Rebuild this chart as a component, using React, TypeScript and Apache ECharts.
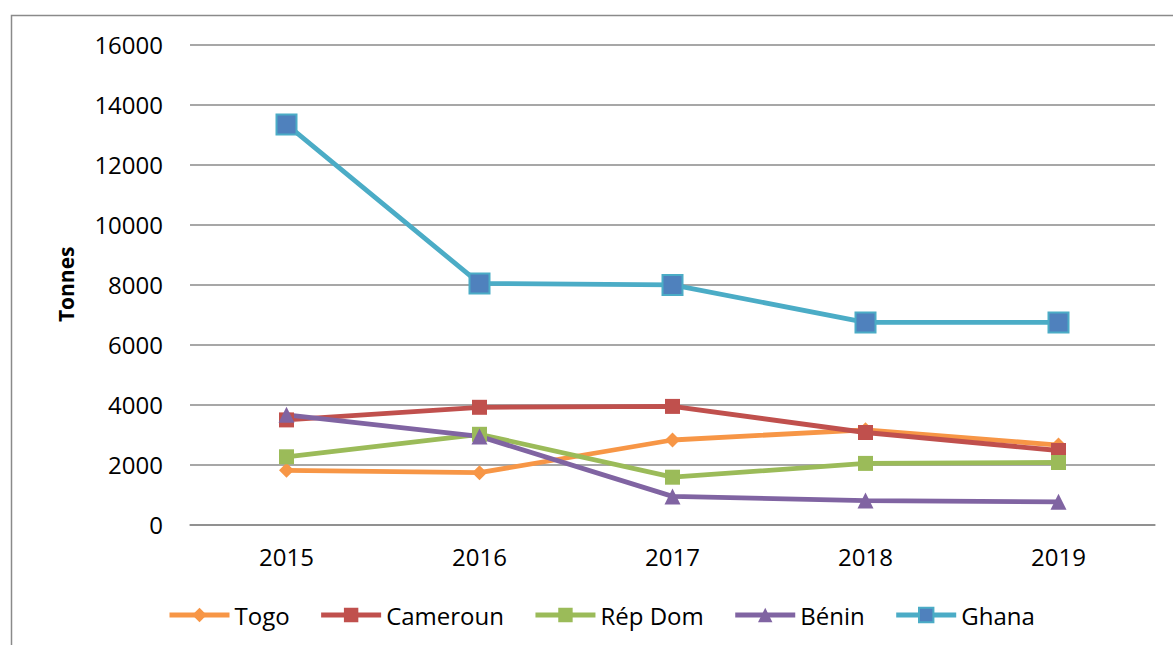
import React, { useEffect, useRef } from "react";
import * as echarts from "echarts";

const years = ["2015", "2016", "2017", "2018", "2019"];
const togo = [1800, 1720, 2810, 3150, 2640];
const cameroun = [3480, 3900, 3930, 3060, 2460];
const repDom = [2250, 3000, 1570, 2030, 2060];
const benin = [3650, 2930, 930, 790, 750];
const ghana = [13330, 8030, 7980, 6730, 6730];

const FONT = "Open Sans";

export default function App() {
  const ref = useRef<HTMLDivElement>(null);
  useEffect(() => {
    document.body.style.margin = "0";
    const chart = echarts.init(ref.current!, undefined, { renderer: "svg" });
    const mk = (name: string, data: number[], color: string, symbol: string, size: number) => ({
      name,
      type: "line",
      data,
      symbol,
      symbolSize: size,
      lineStyle: { color, width: 4.8 },
      itemStyle: { color },
      emphasis: { disabled: true },
    });
    chart.setOption({
      animation: false,
      backgroundColor: "#ffffff",
      textStyle: { fontFamily: FONT },
      graphic: [
        {
          type: "rect",
          shape: { x: 11.5, y: 15.5, width: 1300, height: 800 },
          style: { fill: "none", stroke: "#8a8a8a", lineWidth: 1.5 },
          silent: true,
          z: -1,
        },
      ],
      grid: { left: 190, right: 18, top: 44.3, bottom: 120.7 },
      legend: {
        left: 167,
        top: 603,
        padding: 0,
        itemWidth: 60,
        itemHeight: 18,
        itemGap: 29,
        lineStyle: { width: 5 },
        textStyle: { fontFamily: FONT, fontSize: 24, color: "#000" },
        data: ["Togo", "Cameroun", "Rép Dom", "Bénin", "Ghana"],
      },
      xAxis: {
        type: "category",
        data: years,
        boundaryGap: true,
        axisTick: { show: false },
        axisLine: { show: true, lineStyle: { color: "#8a8a8a", width: 1.5 } },
        axisLabel: { fontFamily: FONT, fontSize: 24, color: "#000", margin: 20 },
      },
      yAxis: {
        type: "value",
        min: 0,
        max: 16000,
        interval: 2000,
        name: "Tonnes",
        nameLocation: "middle",
        nameGap: 114,
        nameRotate: 90,
        nameTextStyle: { fontFamily: FONT, fontSize: 21, fontWeight: "bold", color: "#000" },
        axisLine: { show: false },
        axisTick: { show: false },
        axisLabel: {
          fontFamily: FONT,
          fontSize: 24,
          color: "#000",
          margin: 27,
          formatter: (v: number) => String(v),
        },
        splitLine: { lineStyle: { color: "#8a8a8a", width: 1.5 } },
      },
      series: [
        mk("Togo", togo, "#F79646", "diamond", 15),
        mk("Cameroun", cameroun, "#C0504D", "rect", 15),
        mk("Rép Dom", repDom, "#9BBB59", "rect", 15),
        mk("Bénin", benin, "#8064A2", "triangle", 16),
        {
          ...mk("Ghana", ghana, "#4BACC6", "rect", 20),
          itemStyle: { color: "#4F81BD", borderColor: "#4BACC6", borderWidth: 2 },
        },
      ],
    });
    return () => chart.dispose();
  }, []);
  return (
    <div
      ref={ref}
      style={{ position: "absolute", left: 0, top: 0, width: 1173, height: 645 }}
    />
  );
}
